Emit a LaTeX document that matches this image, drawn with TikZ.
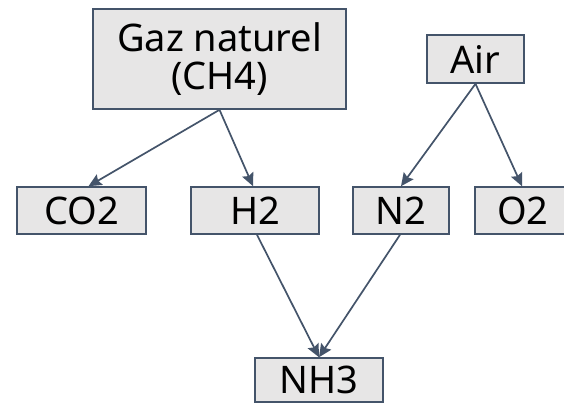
\documentclass[tikz,border=0pt]{standalone}
\usepackage{fontspec}
\setmainfont{Noto Sans}
\usetikzlibrary{arrows.meta}

\definecolor{slateline}{HTML}{44546A}
\definecolor{boxfill}{HTML}{E7E6E6}

\begin{document}
\begin{tikzpicture}[x=1pt, y=-1pt]
	% Styles for the boxes and the arrows
	\tikzset{
		chembox/.style={
			draw=slateline, fill=boxfill, line width=1.6pt,
			inner sep=0pt, font=\fontsize{38}{38}\selectfont
		},
		chemarrow/.style={
			draw=slateline, line width=1.7pt,
			-{Stealth[length=13pt, width=12pt, inset=2pt]}
		}
	}
	
	% Fix the page size
	\useasboundingbox (0, 0) rectangle (564, 402);
	\clip (0, 0) rectangle (564, 402);
	\fill[white] (0, 0) rectangle (564, 402);
	
	% Top row
	\node[chembox, minimum width=253pt, minimum height=100pt, align=center] (gaz) at (219.5, 59) {Gaz naturel\\(CH4)};
	\node[chembox, minimum width=97pt, minimum height=48pt] (air) at (475.5, 59) {Air};
	
	% Middle row
	\node[chembox, minimum width=129pt, minimum height=47pt] (co2) at (81.5, 210.5) {CO2};
	\node[chembox, minimum width=128pt, minimum height=47pt] (h2) at (255, 210.5) {H2};
	\node[chembox, minimum width=96pt, minimum height=47pt] (n2) at (401, 210.5) {N2};
	\node[chembox, minimum width=96pt, minimum height=47pt] (o2) at (523, 210.5) {O2};
	
	% Bottom row (box runs off the lower edge)
	\node[chembox, minimum width=128pt, minimum height=44pt] (nh3) at (319, 380) {NH3};
	
	% Arrows
	\draw[chemarrow] (gaz.south) -- ([xshift=7pt]co2.north);
	\draw[chemarrow] (gaz.south) -- ([xshift=-2pt]h2.north);
	\draw[chemarrow] (air.south) -- (n2.north);
	\draw[chemarrow] (air.south) -- ([xshift=-1pt]o2.north);
	\draw[chemarrow] ([xshift=2pt]h2.south) -- (nh3.north);
	\draw[chemarrow] ([xshift=-1pt]n2.south) -- (nh3.north);
	
\end{tikzpicture}
\end{document}
